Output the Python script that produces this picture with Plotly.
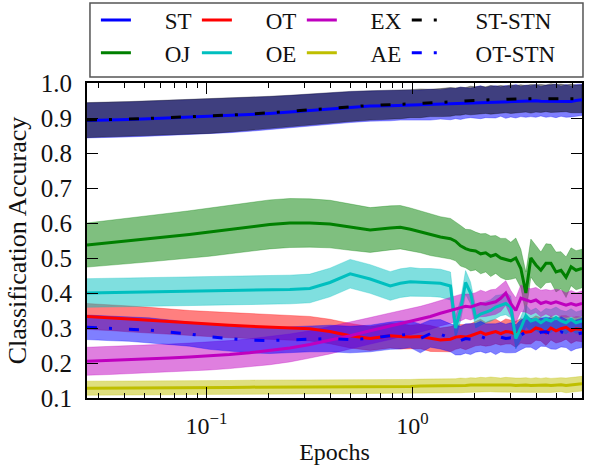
import plotly.graph_objects as go

# Epoch positions (log-scale x)
epochs = [0.0263, 0.0336, 0.0421, 0.0527, 0.0660, 0.0826, 0.1034, 0.1295, 0.1621, 0.2029,
          0.254, 0.318, 0.398, 0.499, 0.624, 0.781, 0.874, 0.978, 1.094, 1.224,
          1.369, 1.532, 1.621, 1.714, 1.814, 1.918, 2.029, 2.146, 2.271, 2.401,
          2.540, 2.687, 2.843, 3.007, 3.18, 3.365, 3.56, 3.764, 3.982, 4.21,
          4.456, 4.71, 4.985, 5.273, 5.578, 5.90, 6.24, 6.67]

st_mean = [0.893, 0.894, 0.896, 0.898, 0.900, 0.902, 0.904, 0.907, 0.910, 0.913,
           0.917, 0.922, 0.927, 0.931, 0.934, 0.935, 0.936, 0.937, 0.937, 0.938,
           0.939, 0.940, 0.941, 0.942, 0.943, 0.943, 0.944, 0.945, 0.944, 0.946,
           0.946, 0.947, 0.946, 0.947, 0.948, 0.947, 0.948, 0.948, 0.949, 0.948,
           0.948, 0.949, 0.949, 0.948, 0.949, 0.947, 0.950, 0.952]
st_sd = [0.050, 0.050, 0.050, 0.050, 0.050, 0.050, 0.049, 0.049, 0.048, 0.048,
         0.047, 0.046, 0.045, 0.044, 0.043, 0.043, 0.042, 0.042, 0.043, 0.044,
         0.042, 0.045, 0.043, 0.046, 0.044, 0.042, 0.045, 0.047, 0.043, 0.045,
         0.046, 0.042, 0.047, 0.044, 0.048, 0.043, 0.046, 0.044, 0.047, 0.042,
         0.046, 0.045, 0.048, 0.043, 0.047, 0.044, 0.046, 0.045]

oj_mean = [0.537, 0.543, 0.549, 0.555, 0.561, 0.567, 0.574, 0.582, 0.590, 0.596,
           0.600, 0.600, 0.597, 0.588, 0.580, 0.586, 0.588, 0.582, 0.575, 0.566,
           0.560, 0.555, 0.548, 0.535, 0.527, 0.522, 0.520, 0.512, 0.515, 0.505,
           0.510, 0.500, 0.497, 0.492, 0.500, 0.470, 0.400, 0.500, 0.480, 0.465,
           0.485, 0.485, 0.460, 0.465, 0.445, 0.475, 0.465, 0.470]
oj_sd = [0.063, 0.064, 0.065, 0.066, 0.067, 0.068, 0.069, 0.070, 0.070, 0.070,
         0.070, 0.069, 0.068, 0.066, 0.064, 0.063, 0.062, 0.061, 0.060, 0.059,
         0.058, 0.058, 0.056, 0.058, 0.055, 0.059, 0.054, 0.057, 0.055, 0.058,
         0.054, 0.056, 0.059, 0.053, 0.057, 0.055, 0.060, 0.054, 0.056, 0.052,
         0.056, 0.054, 0.057, 0.053, 0.058, 0.054, 0.056, 0.055]

ot_mean = [0.333, 0.330, 0.326, 0.322, 0.318, 0.314, 0.311, 0.308, 0.305, 0.303,
           0.301, 0.298, 0.290, 0.278, 0.270, 0.278, 0.276, 0.274, 0.276, 0.270,
           0.266, 0.268, 0.274, 0.276, 0.274, 0.278, 0.284, 0.288, 0.282, 0.286,
           0.290, 0.284, 0.290, 0.288, 0.282, 0.292, 0.288, 0.290, 0.300, 0.296,
           0.286, 0.300, 0.292, 0.298, 0.302, 0.292, 0.298, 0.296]
ot_sd = [0.037, 0.037, 0.037, 0.037, 0.036, 0.036, 0.036, 0.036, 0.035, 0.035,
         0.035, 0.035, 0.035, 0.035, 0.034, 0.035, 0.036, 0.034, 0.035, 0.037,
         0.034, 0.036, 0.035, 0.033, 0.036, 0.034, 0.035, 0.037, 0.034, 0.036,
         0.035, 0.033, 0.036, 0.034, 0.037, 0.035, 0.034, 0.036, 0.035, 0.033,
         0.036, 0.034, 0.035, 0.037, 0.034, 0.036, 0.035, 0.035]

oe_mean = [0.400, 0.401, 0.402, 0.403, 0.404, 0.405, 0.406, 0.407, 0.408, 0.409,
           0.410, 0.413, 0.430, 0.455, 0.440, 0.420, 0.428, 0.432, 0.430, 0.430,
           0.428, 0.420, 0.300, 0.350, 0.430, 0.400, 0.330, 0.340, 0.345, 0.350,
           0.360, 0.365, 0.370, 0.360, 0.270, 0.300, 0.335, 0.320, 0.325, 0.315,
           0.325, 0.320, 0.330, 0.320, 0.315, 0.325, 0.315, 0.320]
oe_sd = [0.041, 0.041, 0.041, 0.041, 0.041, 0.041, 0.041, 0.041, 0.041, 0.041,
         0.041, 0.041, 0.041, 0.041, 0.041, 0.041, 0.041, 0.041, 0.040, 0.040,
         0.040, 0.040, 0.032, 0.030, 0.034, 0.031, 0.030, 0.032, 0.030, 0.031,
         0.033, 0.030, 0.032, 0.031, 0.030, 0.032, 0.031, 0.030, 0.032, 0.030,
         0.031, 0.033, 0.030, 0.031, 0.032, 0.030, 0.031, 0.031]

ex_mean = [0.205, 0.207, 0.209, 0.211, 0.214, 0.217, 0.220, 0.224, 0.229, 0.235,
           0.243, 0.253, 0.265, 0.278, 0.292, 0.305, 0.312, 0.318, 0.325, 0.333,
           0.342, 0.350, 0.355, 0.358, 0.362, 0.360, 0.365, 0.370, 0.368, 0.372,
           0.375, 0.385, 0.400, 0.370, 0.350, 0.385, 0.380, 0.375, 0.380, 0.370,
           0.375, 0.370, 0.375, 0.370, 0.365, 0.370, 0.365, 0.370]
ex_sd = [0.040, 0.040, 0.040, 0.040, 0.040, 0.040, 0.040, 0.040, 0.040, 0.040,
         0.040, 0.039, 0.039, 0.038, 0.038, 0.038, 0.037, 0.037, 0.037, 0.037,
         0.036, 0.037, 0.036, 0.038, 0.035, 0.037, 0.036, 0.038, 0.035, 0.037,
         0.036, 0.038, 0.035, 0.037, 0.036, 0.038, 0.035, 0.037, 0.036, 0.038,
         0.035, 0.037, 0.036, 0.038, 0.035, 0.037, 0.036, 0.036]

ae_mean = [0.128, 0.128, 0.129, 0.129, 0.129, 0.130, 0.130, 0.130, 0.131, 0.131,
           0.131, 0.132, 0.132, 0.132, 0.133, 0.133, 0.133, 0.133, 0.134, 0.134,
           0.134, 0.135, 0.135, 0.136, 0.136, 0.137, 0.137, 0.138, 0.138, 0.139,
           0.138, 0.137, 0.138, 0.137, 0.136, 0.137, 0.137, 0.136, 0.137, 0.136,
           0.137, 0.136, 0.137, 0.138, 0.136, 0.138, 0.139, 0.141]
ae_sd = [0.020, 0.020, 0.020, 0.020, 0.020, 0.020, 0.020, 0.020, 0.020, 0.020,
         0.020, 0.020, 0.020, 0.020, 0.020, 0.020, 0.020, 0.020, 0.020, 0.020,
         0.020, 0.021, 0.020, 0.021, 0.020, 0.021, 0.020, 0.021, 0.020, 0.021,
         0.021, 0.020, 0.021, 0.020, 0.021, 0.020, 0.021, 0.020, 0.021, 0.020,
         0.021, 0.020, 0.021, 0.020, 0.021, 0.020, 0.021, 0.021]

ststn_mean = [0.894, 0.895, 0.897, 0.899, 0.901, 0.903, 0.905, 0.908, 0.911, 0.915,
              0.919, 0.924, 0.929, 0.933, 0.936, 0.938, 0.939, 0.941, 0.942, 0.943,
              0.944, 0.946, 0.947, 0.948, 0.949, 0.950, 0.950, 0.951, 0.951, 0.952,
              0.952, 0.953, 0.953, 0.954, 0.954, 0.955, 0.955, 0.955, 0.956, 0.956,
              0.956, 0.957, 0.957, 0.957, 0.956, 0.956, 0.955, 0.955]
ststn_sd = [0.050, 0.050, 0.050, 0.050, 0.050, 0.049, 0.049, 0.048, 0.048, 0.047,
            0.046, 0.045, 0.044, 0.043, 0.042, 0.041, 0.041, 0.040, 0.041, 0.039,
            0.040, 0.041, 0.039, 0.040, 0.038, 0.041, 0.039, 0.040, 0.038, 0.041,
            0.039, 0.040, 0.038, 0.041, 0.039, 0.040, 0.038, 0.041, 0.039, 0.040,
            0.038, 0.041, 0.039, 0.040, 0.038, 0.041, 0.039, 0.040]

otstn_mean = [0.302, 0.299, 0.297, 0.294, 0.288, 0.283, 0.275, 0.269, 0.265, 0.264,
              0.266, 0.269, 0.270, 0.267, 0.270, 0.278, 0.280, 0.282, 0.270, 0.284,
              0.282, 0.272, 0.266, 0.264, 0.270, 0.268, 0.272, 0.276, 0.270, 0.272,
              0.268, 0.274, 0.270, 0.272, 0.270, 0.280, 0.289, 0.286, 0.280, 0.288,
              0.289, 0.284, 0.280, 0.289, 0.284, 0.276, 0.282, 0.286]
otstn_sd = [0.035, 0.035, 0.035, 0.035, 0.035, 0.035, 0.036, 0.036, 0.036, 0.037,
            0.037, 0.037, 0.038, 0.038, 0.038, 0.039, 0.040, 0.038, 0.041, 0.039,
            0.042, 0.040, 0.043, 0.041, 0.042, 0.044, 0.041, 0.043, 0.042, 0.040,
            0.044, 0.042, 0.041, 0.043, 0.040, 0.042, 0.044, 0.041, 0.043, 0.040,
            0.042, 0.044, 0.041, 0.043, 0.040, 0.042, 0.041, 0.042]

series_names = ["ST", "OJ", "OT", "OE", "EX", "AE", "ST-STN", "OT-STN"]
series_means = [st_mean, oj_mean, ot_mean, oe_mean, ex_mean, ae_mean, ststn_mean, otstn_mean]
series_sds = [st_sd, oj_sd, ot_sd, oe_sd, ex_sd, ae_sd, ststn_sd, otstn_sd]
line_colors = ["#0000ff", "#008000", "#ff0000", "#00bfbf", "#bf00bf", "#bfbf00", "#000000", "#0000ff"]
fill_colors = ["rgba(0,0,255,0.5)", "rgba(0,128,0,0.5)", "rgba(255,0,0,0.5)", "rgba(0,191,191,0.5)",
               "rgba(191,0,191,0.5)", "rgba(191,191,0,0.5)", "rgba(0,0,0,0.5)", "rgba(0,0,255,0.5)"]
dashes = ["solid", "solid", "solid", "solid", "solid", "solid",
          "10px,12px,3px,17px", "10px,12px,3px,17px"]
# legend columns (each column is its own vertical legend)
legend_col = ["legend", "legend", "legend2", "legend2", "legend3", "legend3", "legend4", "legend4"]

fig = go.Figure()

for name, m, s, fc in zip(series_names, series_means, series_sds, fill_colors):
    upper = [a + b for a, b in zip(m, s)]
    lower = [a - b for a, b in zip(m, s)]
    fig.add_trace(go.Scatter(
        x=epochs + epochs[::-1], y=upper + lower[::-1],
        fill="toself", fillcolor=fc, line=dict(width=0.6, color=fc),
        mode="lines", showlegend=False, hoverinfo="skip"))

sp = "\u00a0" * 5
for name, m, lc, dsh, lg in zip(series_names, series_means, line_colors, dashes, legend_col):
    fig.add_trace(go.Scatter(
        x=epochs, y=m, mode="lines", name=sp + name,
        line=dict(color=lc, width=3, dash=dsh),
        legend=lg))

font_family = "Liberation Serif"
minor_vals = [0.03, 0.04, 0.05, 0.06, 0.07, 0.08, 0.09,
              0.2, 0.3, 0.4, 0.5, 0.6, 0.7, 0.8, 0.9,
              2, 3, 4, 5, 6]

leg_common = dict(orientation="v", xanchor="left", y=1.1476, yanchor="middle",
                  bgcolor="rgba(0,0,0,0)", font=dict(size=23), tracegroupgap=0)

fig.update_layout(
    width=594, height=465,
    margin=dict(l=87, r=12, t=83, b=67, autoexpand=False),
    paper_bgcolor="white", plot_bgcolor="white",
    font=dict(family=font_family, size=25, color="#111"),
    xaxis=dict(
        type="log", range=[-1.58, 0.824], automargin=False,
        tickmode="array", tickvals=[0.1, 1],
        ticktext=["10<sup>\u22121</sup>", "10<sup>0</sup>"],
        ticks="inside", ticklen=11, tickwidth=1.2, tickcolor="black",
        minor=dict(tickmode="array", tickvals=minor_vals, ticks="inside",
                   ticklen=5, tickwidth=1.2, tickcolor="black", showgrid=False),
        showline=True, linewidth=2, linecolor="black", mirror="allticks",
        showgrid=False, zeroline=False,
        ticklabelstandoff=5,
        tickfont=dict(size=24),
        title=dict(text="Epochs", standoff=21, font=dict(size=24)),
    ),
    yaxis=dict(
        range=[0.1, 1.0], tickmode="array", automargin=False,
        tickvals=[0.1, 0.2, 0.3, 0.4, 0.5, 0.6, 0.7, 0.8, 0.9, 1.0],
        ticktext=["0.1", "0.2", "0.3", "0.4", "0.5", "0.6", "0.7", "0.8", "0.9", "1.0"],
        ticks="inside", ticklen=11, tickwidth=1.2, tickcolor="black",
        showline=True, linewidth=2, linecolor="black", mirror="allticks",
        showgrid=False, zeroline=False,
        ticklabelstandoff=8,
        tickfont=dict(size=25),
        title=dict(text="Classification Accuracy", standoff=7, font=dict(size=26)),
    ),
    legend=dict(x=0.018, **leg_common),
    legend2=dict(x=0.222, **leg_common),
    legend3=dict(x=0.434, **leg_common),
    legend4=dict(x=0.646, **leg_common),
    shapes=[dict(type="rect", xref="paper", yref="paper",
                 x0=0.006, x1=1.002, y0=1.019, y1=1.254,
                 line=dict(color="#555", width=1.5), fillcolor="rgba(0,0,0,0)")],
)

fig.write_html("out.html")
